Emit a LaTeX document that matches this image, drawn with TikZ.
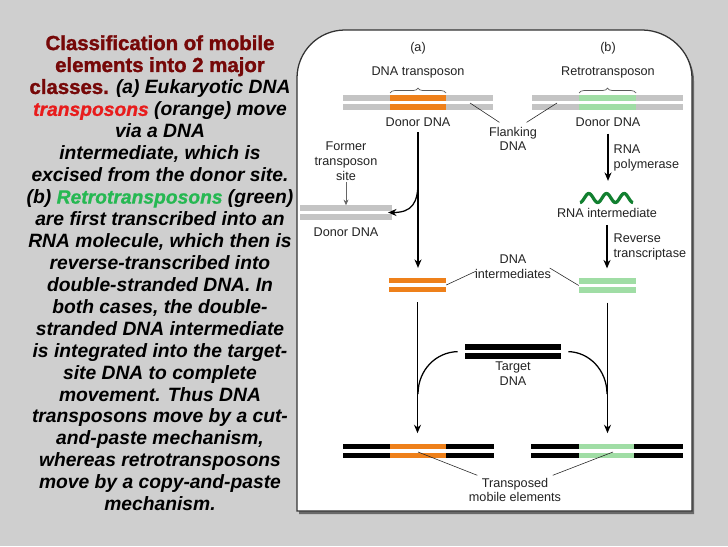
\documentclass[tikz,border=0pt]{standalone}
\usepackage{fontspec}
\setmainfont{Liberation Sans}
\usetikzlibrary{arrows.meta, positioning, decorations.pathreplacing}

\definecolor{slidegray}{RGB}{207,207,207}
\definecolor{shadowgray}{RGB}{105,105,105}
\definecolor{flankgray}{RGB}{196,196,196}
\definecolor{tporange}{RGB}{238,128,26}
\definecolor{retrogreen}{RGB}{160,221,165}
\definecolor{rnagreen}{RGB}{18,128,48}
\definecolor{titlered}{RGB}{118,8,8}
\definecolor{hotred}{RGB}{232,28,28}
\definecolor{leafgreen}{RGB}{38,184,82}
\definecolor{labelink}{RGB}{35,35,35}

\newcommand{\slidetitle}{\fontsize{14.5}{15.6}\selectfont\upshape\addfontfeature{FakeBold=1.5}\color{titlered}}

% one double-stranded piece: name, left x, right x, centre y, colour
\newcommand{\duplex}[5]{%
  \node[duplexbox, minimum width={(#3-#2)*0.025cm}] (#1) at ({(#2+#3)/2},#4) {};
  \foreach \dy in {-4.5,4.5}
    \draw[strand, #5] (#2,#4+\dy) -- (#3,#4+\dy);
}

\begin{document}
\begin{tikzpicture}[x=0.025cm, y=-0.025cm,
    lbl/.style={font=\fontsize{9}{10.5}\selectfont, text=labelink, align=center, inner sep=1pt},
    duplexbox/.style={inner sep=0pt, minimum height=0.35cm},
    strand/.style={line width=3.6pt},
    flow/.style={line width=0.9pt, -{Stealth[length=6pt, width=5pt]}},
    thinflow/.style={line width=0.5pt, gray!80!black, -{Stealth[length=4pt, width=3.5pt]}},
    pointer/.style={line width=0.4pt, labelink},
    tbrace/.style={decorate, decoration={brace, amplitude=3.5pt}, line width=0.5pt, gray!70!black}
]
    % slide background
    \useasboundingbox (0,0) rectangle (728,546);
    \fill[slidegray] (0,0) rectangle (728,546);

    % left column text
    \node[anchor=north, align=center, inner sep=0pt,
          font=\fontsize{13.7}{15.6}\selectfont\bfseries\itshape] (blurb) at (160,35) {%
      {\slidetitle Classification of mobile}\\
      {\slidetitle elements into 2 major}\\
      {\slidetitle classes.} (a) Eukaryotic DNA\\
      {\addfontfeature{FakeBold=1}\color{hotred}transposons} (orange) move\\
      via a DNA\\
      intermediate, which is\\
      excised from the donor site.\\
      (b) {\addfontfeature{FakeBold=1}\color{leafgreen}Retrotransposons} (green)\\
      are first transcribed into an\\
      RNA molecule, which then is\\
      reverse-transcribed into\\
      double-stranded DNA. In\\
      both cases, the double-\\
      stranded DNA intermediate\\
      is integrated into the target-\\
      site DNA to complete\\
      movement. Thus DNA\\
      transposons move by a cut-\\
      and-paste mechanism,\\
      whereas retrotransposons\\
      move by a copy-and-paste\\
      mechanism.};

    % figure panel
    \fill[shadowgray, shift={(2,3)}] (297,511) -- (297,78) .. controls (297,51.5) and (318.5,30) .. (345,30)
        -- (642,30) .. controls (668.5,30) and (692,51.5) .. (692,78) -- (692,511) -- cycle;
    \draw[fill=white, draw=black!80, line width=0.9pt] (297,511) -- (297,78) .. controls (297,51.5) and (318.5,30) .. (345,30)
        -- (642,30) .. controls (668.5,30) and (692,51.5) .. (692,78) -- (692,511) -- cycle;

    % (a) DNA transposon
    \node[lbl] (hdrA) at (418,48) {(a)};
    \node[lbl] (tpA) at (418,72) {DNA transposon};
    \duplex{donorA}{343}{493}{102.5}{flankgray}
    \duplex{elemA}{390}{446}{102.5}{tporange}
    \draw[tbrace] (390,93) -- (446,93);
    \node[lbl] (donorlblA) at (418,122) {Donor DNA};

    \node[lbl] (formerlbl) at (346,161) {Former\\transposon\\site};
    \duplex{emptyA}{300}{392}{212.5}{flankgray}
    \node[lbl] (emptylbl) at (346,232) {Donor DNA};
    \draw[thinflow] (formerlbl.south) -- (formerlbl.south |- emptyA.north);

    \duplex{interA}{389}{446}{285}{tporange}
    \draw[flow, shorten <=3pt, shorten >=7pt] (donorlblA.south) -- (donorlblA.south |- interA.north);
    \coordinate (branchA) at (418,182);
    \draw[flow, shorten >=-3pt] (branchA) .. controls (418,203) and (412,212.5) .. (emptyA.east);

    \duplex{finA}{343}{494}{451}{black}
    \duplex{landA}{390}{446}{451}{tporange}
    \draw[flow, shorten <=7pt, shorten >=7.5pt] (interA.south) -- (interA.south |- finA.north);

    % (b) retrotransposon
    \node[lbl] (hdrB) at (608,48) {(b)};
    \node[lbl] (tpB) at (608,72) {Retrotransposon};
    \duplex{donorB}{532}{683}{102.5}{flankgray}
    \duplex{elemB}{579}{636}{102.5}{retrogreen}
    \draw[tbrace] (579,93) -- (636,93);
    \node[lbl] (donorlblB) at (608,122) {Donor DNA};

    \node[duplexbox, minimum width=1.33cm] (rna) at (607,198) {};
    \draw[rnagreen, line width=2.3pt] plot[domain=0:3, samples=61, smooth] ({580+\x*17.67}, {198+4.5*cos(360*\x)});
    \node[lbl] (rnalbl) at (607,213) {RNA intermediate};
    \draw[flow, shorten <=4pt, shorten >=7pt] (donorlblB.south) -- (donorlblB.south |- rna.north);
    \node[lbl, anchor=west, align=left] (polylbl) at (612,158) {RNA\\polymerase};

    \duplex{interB}{579}{636}{285.5}{retrogreen}
    \draw[flow, shorten <=4pt, shorten >=7pt] (rnalbl.south) -- (rnalbl.south |- interB.north);
    \node[lbl, anchor=west, align=left] (rtlbl) at (612,247) {Reverse\\transcriptase};

    \duplex{finB}{531}{683}{451}{black}
    \duplex{landB}{579}{634}{451}{retrogreen}
    \draw[flow, shorten <=7pt, shorten >=7.5pt] (interB.south) -- (interB.south |- finB.north);

    % shared labels between the columns
    \node[lbl] (flanklbl) at (513,139) {Flanking\\DNA};
    \coordinate (flankendA) at (470,103);
    \coordinate (flankendB) at (557,103);
    \path (flanklbl.north west) ++(12,-3) coordinate (flankstartA);
    \path (flanklbl.north east) ++(-12,-3) coordinate (flankstartB);
    \draw[pointer] (flankstartA) -- (flankendA);
    \draw[pointer] (flankstartB) -- (flankendB);

    \node[lbl] (interlbl) at (513,267) {DNA\\intermediates};
    \draw[pointer] (interlbl.west) ++(3,4) -- (interA.east);
    \draw[pointer] (interlbl.east) ++(-3,1) -- (interB.west);

    \duplex{target}{465}{561}{351.5}{black, line width=4.3pt}
    \node[lbl] (targetlbl) at (513,374) {Target\\DNA};
    \draw[line width=0.9pt, shorten <=5pt] (target.west) .. controls (436,352) and (418,370) .. (418,394);
    \draw[line width=0.9pt, shorten <=5pt] (target.east) .. controls (589,352) and (607,370) .. (607,394);

    \node[lbl] (translbl) at (515,490) {Transposed\\mobile elements};
    \coordinate (transendA) at (418,452);
    \coordinate (transendB) at (613,452);
    \draw[pointer] (translbl.north west) ++(10,-1) -- (transendA);
    \draw[pointer] (translbl.north east) ++(-10,-1) -- (transendB);
\end{tikzpicture}
\end{document}
